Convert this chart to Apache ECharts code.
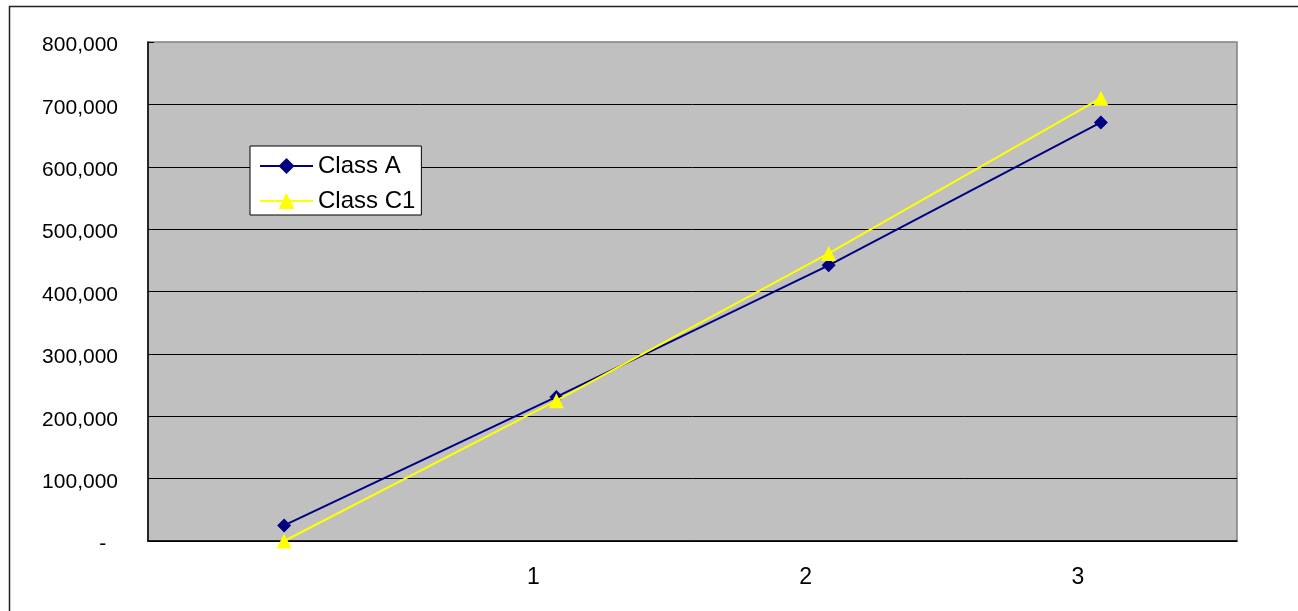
<!DOCTYPE html>
<html>
<head>
<meta charset="utf-8">
<script src="https://cdn.jsdelivr.net/npm/echarts@6/dist/echarts.min.js"></script>
<style>
html,body{margin:0;padding:0;background:#fff;}
#chart{width:1298px;height:611px;}
</style>
</head>
<body>
<div id="chart"></div>
<script>
const categories = ['', '1', '2', '3'];
const classA = [25000, 231000, 442000, 671000];
const classC1 = [0, 225000, 461000, 710000];
const yTicks = { min: 0, max: 800000, interval: 100000 };

const chart = echarts.init(document.getElementById('chart'));
const FONT = 'Liberation Sans, Arial, sans-serif';
chart.setOption({
  animation: false,
  backgroundColor: '#ffffff',
  textStyle: { fontFamily: FONT },
  graphic: [{
    type: 'rect', left: 7, top: 4, silent: true,
    shape: { width: 1400, height: 700 },
    style: { fill: 'none', stroke: '#222', lineWidth: 1.5 }
  }],
  grid: {
    left: 148, top: 42, right: 61, bottom: 70,
    show: true, backgroundColor: '#C0C0C0',
    borderColor: '#808080', borderWidth: 1.5
  },
  legend: {
    data: ['Class A', 'Class C1'],
    orient: 'vertical',
    left: 250, top: 146,
    backgroundColor: '#ffffff',
    borderColor: '#000', borderWidth: 1, borderRadius: 0,
    padding: [8, 6, 2, 9],
    itemWidth: 53, itemHeight: 20, itemGap: 11,
    textStyle: { fontSize: 24, color: '#000', fontFamily: FONT }
  },
  xAxis: [{
    type: 'category',
    data: categories,
    boundaryGap: true,
    axisLine: { lineStyle: { color: '#000', width: 1.5 } },
    axisTick: { inside: true, length: 6, interval: 0, lineStyle: { color: '#000' } },
    axisLabel: {
      fontSize: 23, color: '#000', margin: 25, interval: 0,
      padding: [0, 46, 0, 0], fontFamily: FONT
    },
    splitLine: { show: false }
  }, {
    type: 'category',
    data: categories,
    position: 'bottom',
    boundaryGap: true,
    axisLine: { show: false },
    axisTick: { inside: true, length: 6, interval: 0, alignWithLabel: true, lineStyle: { color: '#000' } },
    axisLabel: { show: false },
    splitLine: { show: false }
  }],
  yAxis: {
    type: 'value',
    min: yTicks.min, max: yTicks.max, interval: yTicks.interval,
    axisLine: { show: true, lineStyle: { color: '#000', width: 1.5 } },
    axisTick: { show: true, inside: true, length: 6, lineStyle: { color: '#000' } },
    axisLabel: {
      fontSize: 21, color: '#000', margin: 30, fontFamily: FONT,
      verticalAlign: 'top', lineHeight: 21, padding: [-7, 0, 0, 0],
      formatter: function (v) { return v === 0 ? '-  ' : v.toLocaleString('en-US'); }
    },
    splitLine: { show: true, showMaxLine: false, lineStyle: { color: '#000', width: 1 } }
  },
  series: [{
    name: 'Class A',
    type: 'line',
    data: classA,
    symbol: 'diamond',
    symbolSize: 14,
    itemStyle: { color: '#000080' },
    lineStyle: { color: '#000080', width: 2 },
    z: 3
  }, {
    name: 'Class C1',
    type: 'line',
    data: classC1,
    symbol: 'triangle',
    symbolSize: 15,
    itemStyle: { color: '#FFFF00' },
    lineStyle: { color: '#FFFF00', width: 2 },
    z: 4
  }]
});
</script>
</body>
</html>
